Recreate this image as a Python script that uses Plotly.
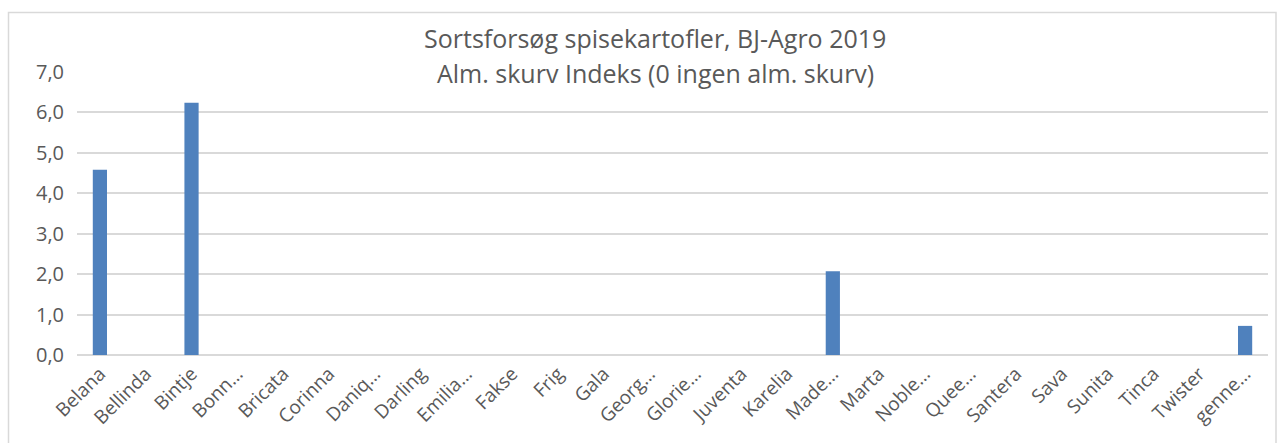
import plotly.graph_objects as go

categories = ["Belana", "Bellinda", "Bintje", "Bonn…", "Bricata", "Corinna", "Daniq…",
              "Darling", "Emilia…", "Fakse", "Frig", "Gala", "Georg…", "Glorie…",
              "Juventa", "Karelia", "Made…", "Marta", "Noble…", "Quee…", "Santera",
              "Sava", "Sunita", "Tinca", "Twister", "genne…"]
values = [4.58, 0, 6.24, 0, 0, 0, 0, 0, 0, 0, 0, 0, 0, 0, 0, 0, 2.07, 0, 0, 0, 0,
          0, 0, 0, 0, 0.72]
y_ticks = [0, 1, 2, 3, 4, 5, 6, 7]
y_tick_labels = ["0,0", "1,0", "2,0", "3,0", "4,0", "5,0", "6,0", "7,0"]
title_lines = ["Sortsforsøg spisekartofler, BJ-Agro 2019",
               "Alm. skurv Indeks (0 ingen alm. skurv)"]

W, H = 1284, 443
L, R, T, B = 77, 16, 72, 88
pw, ph = W - L - R, H - T - B

def px_x(x):
    return (x - L) / pw

def px_y(y):
    return (H - B - y) / ph

fig = go.Figure(go.Bar(x=categories, y=values, marker=dict(color="#4f81bd", line=dict(width=0)),
                       width=0.31))

fig.update_layout(
    width=W, height=H,
    margin=dict(l=L, r=R, t=T, b=B, autoexpand=False),
    paper_bgcolor="white", plot_bgcolor="white",
    font=dict(family="Open Sans", color="#595959"),
    showlegend=False,
    xaxis=dict(tickangle=-45, tickfont=dict(size=19, color="#595959"), showgrid=False,
               showline=False, ticks="", range=[-0.5, len(categories) - 0.5],
               automargin=False, ticklabelstandoff=3),
    yaxis=dict(range=[0, 7], tickvals=y_ticks, ticktext=y_tick_labels,
               tickfont=dict(size=20, color="#595959"), showgrid=True,
               gridcolor="#d9d9d9", gridwidth=1.5, zeroline=True, zerolinecolor="#d9d9d9",
               zerolinewidth=1.5, ticks="", ticklabelstandoff=12, automargin=False),
    bargap=0.69,
)

fig.add_annotation(text=title_lines[0], xref="paper", yref="paper", x=px_x(655), y=px_y(38),
                   showarrow=False, font=dict(size=25, color="#595959"), xanchor="center",
                   yanchor="middle")
fig.add_annotation(text=title_lines[1], xref="paper", yref="paper", x=px_x(655), y=px_y(73),
                   showarrow=False, font=dict(size=25, color="#595959"), xanchor="center",
                   yanchor="middle")

fig.add_shape(type="rect", xref="paper", yref="paper",
              x0=px_x(8.5), x1=px_x(1276), y0=px_y(460), y1=px_y(12.5),
              line=dict(color="#d9d9d9", width=1.5), fillcolor="rgba(0,0,0,0)", layer="below")

fig.write_html("out.html", config={"displayModeBar": False},
               post_script="document.body.style.margin='0';")
